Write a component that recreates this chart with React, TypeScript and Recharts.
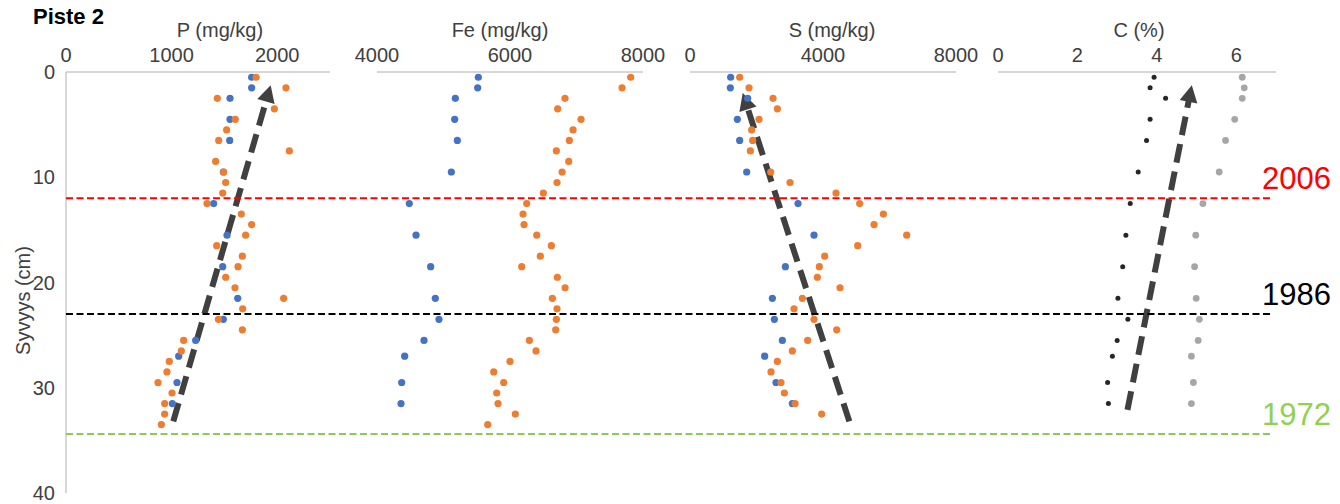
import React from 'react';
import { ScatterChart, Scatter, XAxis, YAxis, ReferenceLine } from 'recharts';

// ---------- data ----------
const depthsOrange = [0.5, 1.5, 2.5, 3.5, 4.5, 5.5, 6.5, 7.5, 8.5, 9.5, 10.5, 11.5, 12.5, 13.5, 14.5, 15.5, 16.5, 17.5, 18.5, 19.5, 20.5, 21.5, 22.5, 23.5, 24.5, 25.5, 26.5, 27.5, 28.5, 29.5, 30.5, 31.5, 32.5, 33.5];
const depthsBlue = [0.5, 1.5, 2.5, 4.5, 6.5, 9.5, 12.5, 15.5, 18.5, 21.5, 23.5, 25.5, 27, 29.5, 31.5];

const pOrange = [1800, 2083, 1433, 1973, 1603, 1521, 1446, 2115, 1417, 1493, 1512, 1484, 1335, 1660, 1758, 1701, 1427, 1670, 1629, 1512, 1600, 2061, 1673, 1443, 1670, 1114, 1092, 978, 956, 871, 1004, 934, 934, 903];
const pBlue = [1758, 1758, 1553, 1553, 1550, 1490, 1398, 1525, 1484, 1626, 1490, 1228, 1067, 1051, 1007];

const feOrange = [7815, 7685, 6827, 6717, 7068, 6948, 6892, 6697, 6883, 6783, 6707, 6501, 6251, 6196, 6211, 6402, 6622, 6456, 6176, 6712, 6828, 6637, 6707, 6697, 6687, 6291, 6391, 6000, 5755, 5905, 5800, 5820, 6080, 5665];
const feBlue = [5524, 5514, 5178, 5168, 5208, 5118, 4486, 4587, 4807, 4877, 4932, 4707, 4416, 4371, 4361];

const sOrange: (number | null)[] = [1494, 1775, 2497, 2627, 2076, 1855, 1885, 1815, null, 2427, 3008, 4392, 5104, 5815, 5535, 6518, 5044, 4051, 3890, 3830, 4512, 3379, 3128, 3730, 4412, 3539, 3078, 2627, 2437, 2737, 2838, 3159, 3960, null];
const sBlue = [1223, 1213, 1735, 1424, 1494, 1705, 3249, 3730, 2868, 2477, 2537, 2778, 2246, 2587, 3078];

const cDark = [3.93, 3.83, 4.22, 3.83, 3.74, 3.53, 3.33, 3.22, 3.14, 3.02, 3.27, 3.0, 2.88, 2.76, 2.78];
const cGrey = [6.15, 6.2, 6.15, 5.96, 5.73, 5.57, 5.16, 4.98, 4.95, 4.99, 5.07, 5.04, 4.87, 4.92, 4.87];

const pArrow = [{ x: 1016, y: 33.2 }, { x: 1938, y: 1.25 }];
const sArrow = [{ x: 4792, y: 33.2 }, { x: 1585, y: 2.0 }];
const cArrow = [{ x: 3.26, y: 32.1 }, { x: 4.88, y: 1.25 }];

const depthTicks = [0, 10, 20, 30, 40];
const pTicks = [0, 1000, 2000];
const feTicks = [4000, 6000, 8000];
const sTicks = [0, 4000, 8000];
const cTicks = [0, 2, 4, 6];

const yearDepths = [12, 23, 34.4];
const yearLabels = ['2006', '1986', '1972'];

// ---------- styles ----------
const FONT = "'Liberation Sans', Arial, sans-serif";
const AXIS = '#cacaca';
const TICK = '#404040';
const BLUE = '#4472c4';
const ORANGE = '#ed7d31';
const yearColors = ['#ff0000', '#000000', '#92d050'];
const yearLineColors = ['#ff0000', '#000000', '#8cc85a'];
const PLOT_TOP = 72;
const PLOT_BOTTOM = 493;
const H = 504;

const build = (vals: (number | null)[], depths: number[]) =>
  vals
    .map((v, i) => (v == null ? null : { x: v, y: depths[i] }))
    .filter((d): d is { x: number; y: number } => d !== null);

const ArrowShape = (props: any) => {
  const { x1, y1, x2, y2 } = props;
  if ([x1, y1, x2, y2].some((v) => typeof v !== 'number' || isNaN(v))) return <g />;
  const dx = x2 - x1;
  const dy = y2 - y1;
  const len = Math.hypot(dx, dy) || 1;
  const ux = dx / len;
  const uy = dy / len;
  const headLen = 17;
  const headW = 9;
  const bx = x2 - ux * headLen;
  const by = y2 - uy * headLen;
  const px = -uy;
  const py = ux;
  return (
    <g>
      <line x1={x1} y1={y1} x2={bx + ux * 2} y2={by + uy * 2} stroke="#404040" strokeWidth={6} strokeDasharray="19 9" />
      <polygon
        points={`${x2},${y2} ${bx + px * headW},${by + py * headW} ${bx - px * headW},${by - py * headW}`}
        fill="#404040"
      />
    </g>
  );
};

type Series = { data: { x: number; y: number }[]; color: string; r: number };

type PanelProps = {
  plotLeft: number;
  plotWidth: number;
  domain: [number, number];
  ticks: number[];
  title: string;
  titleDx: number;
  series: Series[];
  arrow?: { x: number; y: number }[];
  showY?: boolean;
};

function Panel(p: PanelProps) {
  const leftPad = p.showY ? 66 : 34;
  const rightPad = 34;
  const yAxisW = p.showY ? 50 : 0;
  const width = leftPad + p.plotWidth + rightPad;
  return (
    <div style={{ position: 'absolute', left: p.plotLeft - leftPad, top: 0 }}>
      <ScatterChart
        width={width}
        height={H}
        margin={{ top: PLOT_TOP - 30, right: rightPad, bottom: H - PLOT_BOTTOM, left: leftPad - yAxisW }}
      >
        <XAxis
          type="number"
          dataKey="x"
          orientation="top"
          height={30}
          domain={p.domain}
          ticks={p.ticks}
          interval={0}
          allowDataOverflow
          tickSize={0}
          tickMargin={10}
          tickLine={false}
          axisLine={{ stroke: AXIS, strokeWidth: 1.5 }}
          tick={{ fill: TICK, fontSize: 20, fontFamily: FONT }}
          label={{
            content: (lp: any) => {
              const vb = lp.viewBox || {};
              return (
                <text
                  x={vb.x + vb.width / 2 + p.titleDx}
                  y={vb.y + vb.height - 35}
                  textAnchor="middle"
                  fill={TICK}
                  fontSize={20}
                  fontFamily={FONT}
                >
                  {p.title}
                </text>
              );
            },
          }}
        />
        <YAxis
          type="number"
          dataKey="y"
          reversed
          domain={[0, 40]}
          ticks={depthTicks}
          interval={0}
          allowDataOverflow
          width={yAxisW}
          tickSize={0}
          tickMargin={11}
          tickLine={false}
          axisLine={{ stroke: AXIS, strokeWidth: 1.5 }}
          tick={p.showY ? { fill: TICK, fontSize: 20, fontFamily: FONT } : false}
          label={
            p.showY
              ? {
                  content: (lp: any) => {
                    const vb = lp.viewBox || {};
                    const cx = vb.x + 7;
                    const cy = vb.y + vb.height / 2 + 18;
                    return (
                      <text
                        x={cx}
                        y={cy}
                        textAnchor="middle"
                        dominantBaseline="central"
                        transform={`rotate(-90, ${cx}, ${cy})`}
                        fill={TICK}
                        fontSize={20}
                        fontFamily={FONT}
                      >
                        Syvyys (cm)
                      </text>
                    );
                  },
                }
              : undefined
          }
        />
        {p.series.map((s, i) => (
          <Scatter
            key={i}
            data={s.data}
            isAnimationActive={false}
            shape={(sp: any) => <circle cx={sp.cx} cy={sp.cy} r={s.r} fill={s.color} />}
          />
        ))}
        {p.arrow && <ReferenceLine segment={p.arrow} shape={ArrowShape} ifOverflow="visible" />}
      </ScatterChart>
    </div>
  );
}

// invisible anchor points so the overlay chart has data for its scales
const overlayAnchors = yearDepths.flatMap((d) => [
  { x: 0, y: d },
  { x: 1, y: d },
]);

function Overlay() {
  return (
    <div style={{ position: 'absolute', left: 0, top: 0, pointerEvents: 'none' }}>
      <ScatterChart width={1340} height={H} margin={{ top: PLOT_TOP, left: 66, right: 68, bottom: H - PLOT_BOTTOM }}>
        <XAxis type="number" dataKey="x" domain={[0, 1]} hide />
        <YAxis type="number" dataKey="y" domain={[0, 40]} reversed hide width={0} />
        <Scatter data={overlayAnchors} isAnimationActive={false} shape={() => <g />} />
        {yearDepths.map((d, i) => (
          <ReferenceLine
            key={i}
            segment={[
              { x: 0, y: d },
              { x: 1, y: d },
            ]}
            stroke={yearLineColors[i]}
            strokeWidth={2}
            strokeDasharray="7 3.5"
            ifOverflow="visible"
            label={{
              content: (lp: any) => {
                const vb = lp.viewBox || {};
                return (
                  <text
                    x={vb.x + vb.width - 10}
                    y={vb.y - 9}
                    textAnchor="start"
                    fill={yearColors[i]}
                    fontSize={31}
                    fontFamily={FONT}
                  >
                    {yearLabels[i]}
                  </text>
                );
              },
            }}
          />
        ))}
      </ScatterChart>
    </div>
  );
}

export default function App() {
  return (
    <div style={{ position: 'absolute', left: 0, top: 0, width: 1340, height: 504, background: '#fff', overflow: 'hidden' }}>
      <div
        style={{
          position: 'absolute',
          left: 33,
          top: 4,
          fontFamily: FONT,
          fontWeight: 'bold',
          fontSize: 22,
          color: '#000',
        }}
      >
        Piste 2
      </div>
      <Panel
        plotLeft={66}
        plotWidth={264}
        domain={[0, 2500]}
        ticks={pTicks}
        title="P (mg/kg)"
        titleDx={22}
        showY
        series={[
          { data: build(pBlue, depthsBlue), color: BLUE, r: 3.6 },
          { data: build(pOrange, depthsOrange), color: ORANGE, r: 3.6 },
        ]}
        arrow={pArrow}
      />
      <Panel
        plotLeft={377}
        plotWidth={266}
        domain={[4000, 8000]}
        ticks={feTicks}
        title="Fe (mg/kg)"
        titleDx={-10}
        series={[
          { data: build(feBlue, depthsBlue), color: BLUE, r: 3.6 },
          { data: build(feOrange, depthsOrange), color: ORANGE, r: 3.6 },
        ]}
      />
      <Panel
        plotLeft={690}
        plotWidth={266}
        domain={[0, 8000]}
        ticks={sTicks}
        title="S (mg/kg)"
        titleDx={9}
        series={[
          { data: build(sBlue, depthsBlue), color: BLUE, r: 3.6 },
          { data: build(sOrange, depthsOrange), color: ORANGE, r: 3.6 },
        ]}
        arrow={sArrow}
      />
      <Panel
        plotLeft={998}
        plotWidth={278}
        domain={[0, 7]}
        ticks={cTicks}
        title="C (%)"
        titleDx={2}
        series={[
          { data: build(cDark, depthsBlue), color: '#262626', r: 2.5 },
          { data: build(cGrey, depthsBlue), color: '#a6a6a6', r: 3.4 },
        ]}
        arrow={cArrow}
      />
      <Overlay />
    </div>
  );
}
